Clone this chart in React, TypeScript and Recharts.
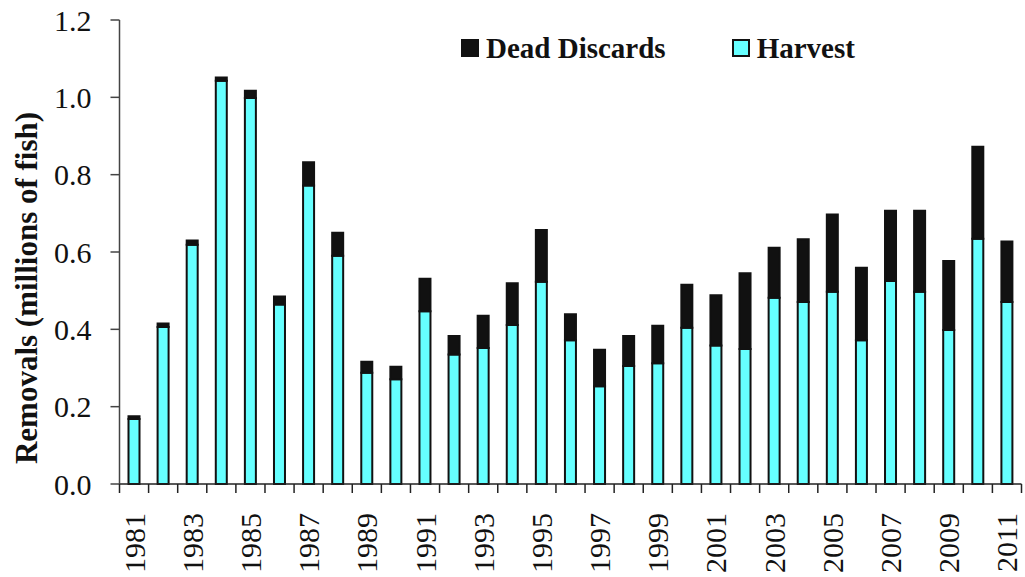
import { BarChart, Bar, XAxis, YAxis, Label } from "recharts"

const years = [
  1981, 1982, 1983, 1984, 1985, 1986, 1987, 1988, 1989, 1990,
  1991, 1992, 1993, 1994, 1995, 1996, 1997, 1998, 1999, 2000,
  2001, 2002, 2003, 2004, 2005, 2006, 2007, 2008, 2009, 2010, 2011,
]

const harvest = [
  0.168, 0.406, 0.619, 1.043, 0.998, 0.464, 0.772, 0.59, 0.288, 0.271,
  0.447, 0.335, 0.352, 0.411, 0.523, 0.372, 0.253, 0.305, 0.312, 0.404,
  0.358, 0.349, 0.482, 0.471, 0.497, 0.372, 0.525, 0.497, 0.398, 0.634, 0.471,
]

const deadDiscards = [
  0.007, 0.009, 0.011, 0.008, 0.019, 0.021, 0.06, 0.06, 0.028, 0.032,
  0.084, 0.048, 0.083, 0.108, 0.134, 0.067, 0.094, 0.078, 0.097, 0.111,
  0.13, 0.196, 0.129, 0.162, 0.2, 0.187, 0.182, 0.21, 0.179, 0.238, 0.156,
]

const yTicks = [0, 0.2, 0.4, 0.6, 0.8, 1.0, 1.2]

const legendItems = [
  { label: "Dead Discards", color: "#111111" },
  { label: "Harvest", color: "#66ffff" },
]

const data = years.map((year, i) => ({
  year: String(year),
  harvest: harvest[i],
  discards: deadDiscards[i],
}))

const FONT = "'Liberation Serif', 'Times New Roman', serif"
const CYAN = "#66ffff"
const DARK = "#111111"

function YearTick(props: any) {
  const { x, y, payload, index } = props
  const half = payload?.offset || 14.55
  const last = index === years.length - 1
  return (
    <g>
      <line x1={x - half} x2={x - half} y1={y - 8} y2={y + 1} stroke="#222" strokeWidth={1.5} />
      {last && <line x1={x + half} x2={x + half} y1={y - 8} y2={y + 1} stroke="#222" strokeWidth={1.5} />}
      {index % 2 === 0 && (
        <text
          x={x}
          y={y + 21}
          transform={`rotate(-90 ${x} ${y + 21})`}
          textAnchor="end"
          dominantBaseline="central"
          style={{ fontFamily: FONT, fontSize: 30, fill: "#111" }}
        >
          {payload.value}
        </text>
      )}
    </g>
  )
}

function ValueTick(props: any) {
  const { x, y, payload } = props
  return (
    <text
      x={x}
      y={y}
      textAnchor="end"
      dominantBaseline="central"
      style={{ fontFamily: FONT, fontSize: 30, fill: "#111" }}
    >
      {Number(payload.value).toFixed(1)}
    </text>
  )
}

function YTitle() {
  return (
    <text
      x={26}
      y={288}
      transform="rotate(-90 26 288)"
      textAnchor="middle"
      dominantBaseline="central"
      style={{ fontFamily: FONT, fontWeight: "bold", fontSize: 31, fill: "#111" }}
    >
      Removals (millions of fish)
    </text>
  )
}

function LegendBox() {
  return (
    <div
      style={{
        position: "absolute",
        left: 461,
        top: 31,
        display: "flex",
        fontFamily: FONT,
        fontWeight: "bold",
        fontSize: 29,
        lineHeight: "34px",
        color: "#111",
      }}
    >
      {legendItems.map((it, i) => (
        <div key={it.label} style={{ display: "flex", alignItems: "center", marginRight: i === 0 ? 66 : 0 }}>
          <span
            style={{
              display: "inline-block",
              width: 14,
              height: 14,
              background: it.color,
              border: "2px solid #111",
              marginRight: 7,
            }}
          />
          <span>{it.label}</span>
        </div>
      ))}
    </div>
  )
}

export default function App() {
  return (
    <div style={{ position: "absolute", left: 0, top: 0, width: 1025, height: 577, background: "#fff" }}>
      <BarChart
        width={1025}
        height={577}
        data={data}
        margin={{ top: 20, right: 3.5, bottom: 0, left: 0 }}
        barSize={11}
      >
        <XAxis
          dataKey="year"
          interval={0}
          height={93}
          tickLine={false}
          axisLine={{ stroke: "#222", strokeWidth: 1.5 }}
          tick={<YearTick />}
        />
        <YAxis
          width={119.5}
          domain={[0, 1.2]}
          ticks={yTicks}
          tickSize={9}
          tickMargin={19}
          axisLine={{ stroke: "#444", strokeWidth: 1.5 }}
          tickLine={{ stroke: "#444", strokeWidth: 1.5 }}
          tick={<ValueTick />}
        >
          <Label content={<YTitle />} />
        </YAxis>
        <Bar dataKey="harvest" name="Harvest" stackId="a" fill={CYAN} stroke="#111" strokeWidth={2} isAnimationActive={false} />
        <Bar dataKey="discards" name="Dead Discards" stackId="a" fill={DARK} stroke="#111" strokeWidth={2} isAnimationActive={false} />
      </BarChart>
      <LegendBox />
    </div>
  )
}
